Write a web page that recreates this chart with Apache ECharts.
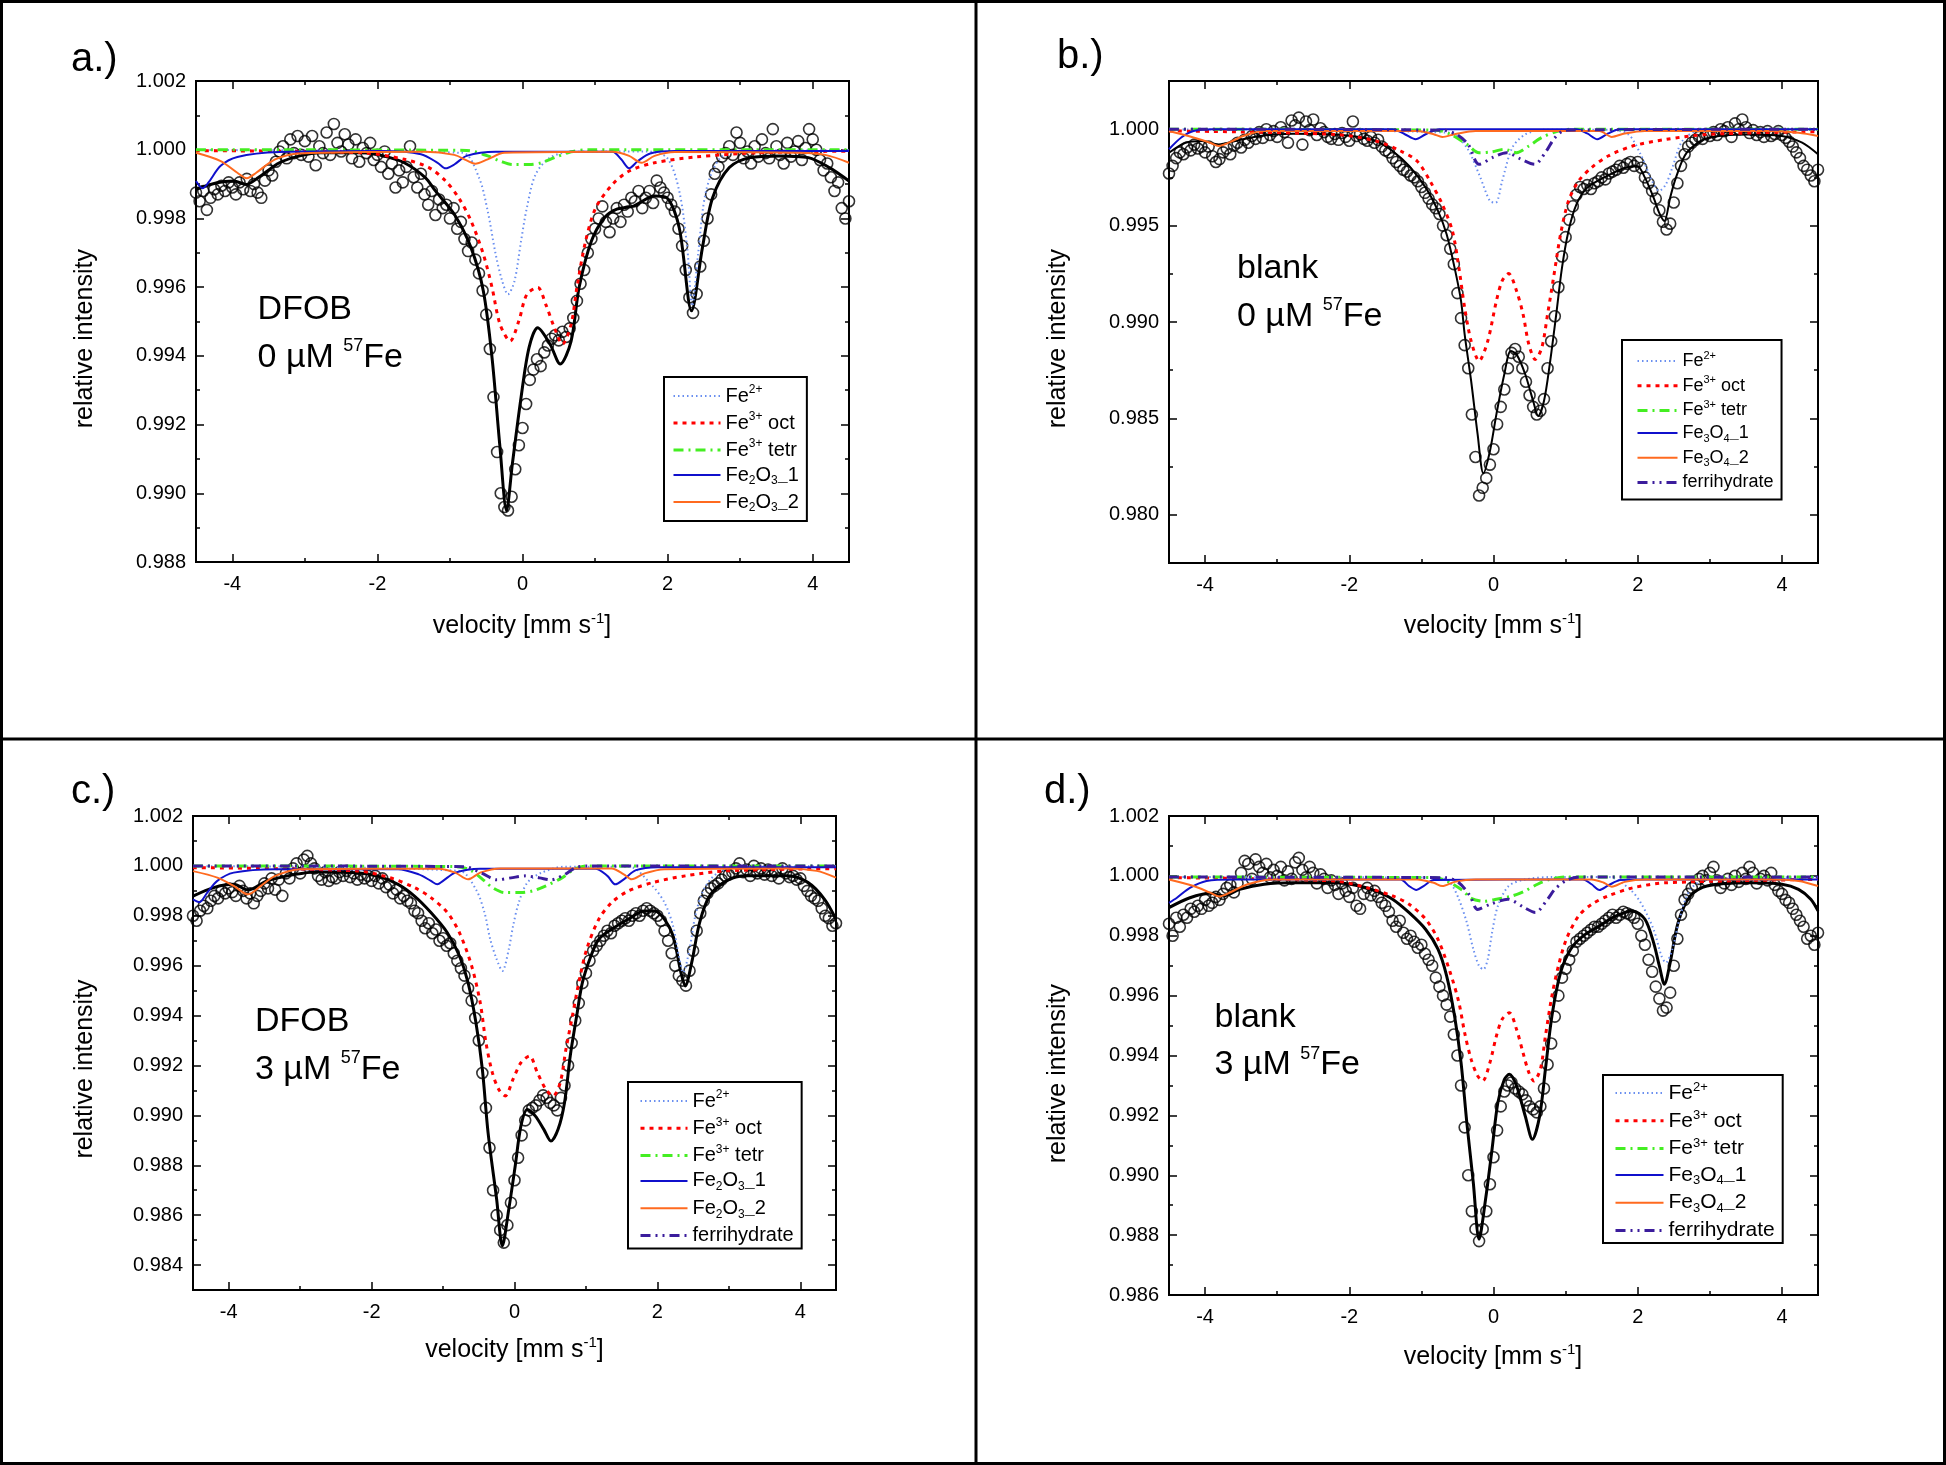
<!DOCTYPE html>
<html><head><meta charset="utf-8">
<script src="https://cdn.jsdelivr.net/npm/echarts@6/dist/echarts.min.js"></script>
<style>html,body{margin:0;padding:0;background:#fff}#c{width:1946px;height:1465px}</style>
</head><body><div id="c"></div>
<script>
const FONT = '"Liberation Sans", Arial, Helvetica, sans-serif';

// channel velocities (mm/s)
const velocity = [
-4.50,-4.45,-4.40,-4.35,-4.30,-4.25,-4.20,-4.15,-4.10,-4.05,
-4.00,-3.95,-3.90,-3.85,-3.80,-3.75,-3.70,-3.65,-3.60,-3.55,
-3.50,-3.45,-3.40,-3.35,-3.30,-3.25,-3.20,-3.15,-3.10,-3.05,
-3.00,-2.95,-2.90,-2.85,-2.80,-2.75,-2.70,-2.65,-2.60,-2.55,
-2.50,-2.45,-2.40,-2.35,-2.30,-2.25,-2.20,-2.15,-2.10,-2.05,
-2.00,-1.95,-1.90,-1.85,-1.80,-1.75,-1.70,-1.65,-1.60,-1.55,
-1.50,-1.45,-1.40,-1.35,-1.30,-1.25,-1.20,-1.15,-1.10,-1.05,
-1.00,-0.95,-0.90,-0.85,-0.80,-0.75,-0.70,-0.65,-0.60,-0.55,
-0.50,-0.45,-0.40,-0.35,-0.30,-0.25,-0.20,-0.15,-0.10,-0.05,
0.00,0.05,0.10,0.15,0.20,0.25,0.30,0.35,0.40,0.45,
0.50,0.55,0.60,0.65,0.70,0.75,0.80,0.85,0.90,0.95,
1.00,1.05,1.10,1.15,1.20,1.25,1.30,1.35,1.40,1.45,
1.50,1.55,1.60,1.65,1.70,1.75,1.80,1.85,1.90,1.95,
2.00,2.05,2.10,2.15,2.20,2.25,2.30,2.35,2.40,2.45,
2.50,2.55,2.60,2.65,2.70,2.75,2.80,2.85,2.90,2.95,
3.00,3.05,3.10,3.15,3.20,3.25,3.30,3.35,3.40,3.45,
3.50,3.55,3.60,3.65,3.70,3.75,3.80,3.85,3.90,3.95,
4.00,4.05,4.10,4.15,4.20,4.25,4.30,4.35,4.40,4.45,
4.50];

// measured relative intensity per channel
const intensityA = [
0.99875,0.99850,0.99880,0.99825,0.99860,0.99885,0.99870,0.99895,0.99880,0.99905,
0.99890,0.99870,0.99905,0.99885,0.99915,0.99880,0.99900,0.99875,0.99860,0.99910,
0.99940,0.99925,0.99965,0.99995,1.00010,0.99975,1.00030,0.99990,1.00040,0.99985,
1.00025,0.99980,1.00040,0.99955,1.00010,0.99990,1.00050,0.99985,1.00075,1.00020,
0.99995,1.00045,1.00015,0.99975,1.00030,0.99965,1.00005,0.99990,1.00020,0.99970,
0.99985,0.99950,0.99995,0.99930,0.99960,0.99890,0.99940,0.99905,0.99950,1.00010,
0.99920,0.99890,0.99930,0.99870,0.99840,0.99880,0.99810,0.99855,0.99830,0.99840,
0.99800,0.99830,0.99770,0.99790,0.99740,0.99705,0.99730,0.99680,0.99640,0.99590,
0.99520,0.99420,0.99280,0.99120,0.99000,0.98960,0.98950,0.98990,0.99070,0.99140,
0.99190,0.99260,0.99330,0.99360,0.99390,0.99370,0.99410,0.99430,0.99450,0.99460,
0.99445,0.99470,0.99455,0.99480,0.99510,0.99560,0.99610,0.99650,0.99700,0.99740,
0.99770,0.99800,0.99835,0.99790,0.99760,0.99800,0.99830,0.99790,0.99840,0.99820,
0.99860,0.99850,0.99880,0.99830,0.99860,0.99880,0.99845,0.99910,0.99890,0.99875,
0.99860,0.99840,0.99820,0.99770,0.99720,0.99650,0.99570,0.99525,0.99580,0.99660,
0.99735,0.99800,0.99870,0.99930,0.99950,0.99980,0.99990,1.00010,0.99985,1.00050,
1.00020,0.99975,0.99995,0.99960,1.00010,0.99980,1.00030,0.99990,0.99975,1.00060,
1.00010,0.99985,0.99960,1.00020,0.99980,0.99995,1.00025,0.99970,1.00005,1.00060,
1.00030,1.00000,0.99970,0.99940,0.99960,0.99920,0.99880,0.99905,0.99830,0.99800,
0.99850];
const intensityB = [
0.99770,0.99810,0.99850,0.99880,0.99870,0.99905,0.99890,0.99920,0.99900,0.99910,
0.99880,0.99910,0.99860,0.99830,0.99845,0.99880,0.99900,0.99870,0.99915,0.99930,
0.99905,0.99945,0.99930,0.99965,0.99950,0.99985,0.99955,1.00000,0.99970,0.99990,
0.99960,1.00010,0.99985,0.99930,1.00045,1.00020,1.00060,0.99920,1.00040,0.99995,
1.00050,0.99970,1.00005,0.99985,0.99960,0.99950,0.99975,0.99945,0.99980,0.99960,
0.99940,1.00040,0.99965,0.99975,0.99950,0.99940,0.99960,0.99930,0.99945,0.99910,
0.99890,0.99880,0.99850,0.99830,0.99810,0.99790,0.99780,0.99760,0.99750,0.99730,
0.99700,0.99670,0.99640,0.99610,0.99590,0.99560,0.99500,0.99450,0.99380,0.99300,
0.99150,0.99020,0.98880,0.98760,0.98520,0.98300,0.98100,0.98140,0.98190,0.98260,
0.98340,0.98470,0.98560,0.98650,0.98760,0.98840,0.98860,0.98820,0.98760,0.98690,
0.98620,0.98560,0.98520,0.98540,0.98600,0.98760,0.98900,0.99030,0.99180,0.99340,
0.99440,0.99530,0.99600,0.99660,0.99700,0.99690,0.99710,0.99690,0.99720,0.99730,
0.99750,0.99740,0.99770,0.99780,0.99790,0.99810,0.99800,0.99820,0.99830,0.99810,
0.99830,0.99800,0.99750,0.99720,0.99680,0.99640,0.99580,0.99520,0.99480,0.99510,
0.99620,0.99720,0.99810,0.99870,0.99910,0.99930,0.99945,0.99960,0.99950,0.99975,
0.99965,0.99985,0.99970,1.00000,0.99990,1.00010,0.99960,1.00030,1.00000,1.00050,
1.00010,0.99980,0.99995,0.99970,0.99985,0.99960,0.99990,0.99965,0.99975,0.99990,
0.99970,0.99955,0.99935,0.99910,0.99880,0.99850,0.99810,0.99790,0.99760,0.99730,
0.99790];
const intensityC = [
0.99800,0.99780,0.99820,0.99840,0.99830,0.99860,0.99880,0.99870,0.99900,0.99890,
0.99910,0.99895,0.99880,0.99920,0.99900,0.99870,0.99890,0.99850,0.99880,0.99900,
0.99930,0.99910,0.99950,0.99905,0.99945,0.99880,0.99970,0.99950,0.99990,1.00010,
0.99970,1.00025,1.00040,1.00010,0.99990,0.99960,0.99945,0.99975,0.99940,0.99955,
0.99950,0.99975,0.99960,0.99980,0.99955,0.99970,0.99945,0.99965,0.99950,0.99960,
0.99940,0.99960,0.99930,0.99950,0.99915,0.99925,0.99890,0.99905,0.99870,0.99880,
0.99860,0.99850,0.99820,0.99810,0.99780,0.99750,0.99770,0.99730,0.99745,0.99700,
0.99710,0.99680,0.99690,0.99650,0.99620,0.99590,0.99560,0.99510,0.99460,0.99390,
0.99300,0.99170,0.99030,0.98870,0.98700,0.98600,0.98540,0.98490,0.98560,0.98650,
0.98740,0.98830,0.98920,0.98980,0.99020,0.99030,0.99040,0.99060,0.99080,0.99070,
0.99050,0.99040,0.99020,0.99070,0.99120,0.99200,0.99290,0.99380,0.99450,0.99530,
0.99570,0.99620,0.99660,0.99680,0.99700,0.99720,0.99740,0.99730,0.99760,0.99770,
0.99780,0.99790,0.99780,0.99800,0.99810,0.99800,0.99820,0.99830,0.99820,0.99810,
0.99800,0.99780,0.99740,0.99700,0.99650,0.99600,0.99560,0.99540,0.99520,0.99580,
0.99660,0.99740,0.99810,0.99860,0.99890,0.99910,0.99920,0.99930,0.99945,0.99960,
0.99965,0.99975,0.99990,1.00010,0.99975,0.99985,0.99960,1.00000,0.99970,0.99990,
0.99965,0.99985,0.99960,0.99975,0.99950,0.99990,0.99970,0.99955,0.99960,0.99945,
0.99950,0.99920,0.99900,0.99880,0.99870,0.99860,0.99830,0.99800,0.99790,0.99760,
0.99770];
const intensityD = [
0.99840,0.99800,0.99860,0.99830,0.99870,0.99860,0.99890,0.99880,0.99900,0.99890,
0.99920,0.99900,0.99910,0.99930,0.99920,0.99940,0.99960,0.99970,0.99945,0.99975,
1.00010,1.00050,1.00040,0.99990,1.00055,1.00030,1.00010,1.00040,0.99995,1.00020,
1.00000,1.00030,0.99985,1.00015,0.99990,1.00045,1.00060,1.00020,0.99995,1.00030,
1.00010,0.99975,1.00005,0.99990,0.99960,0.99985,0.99970,0.99940,0.99975,0.99950,
0.99930,0.99960,0.99900,0.99890,0.99940,0.99960,0.99935,0.99950,0.99930,0.99910,
0.99900,0.99880,0.99850,0.99830,0.99850,0.99810,0.99790,0.99800,0.99780,0.99760,
0.99770,0.99740,0.99720,0.99700,0.99660,0.99630,0.99600,0.99570,0.99530,0.99470,
0.99400,0.99300,0.99160,0.99000,0.98880,0.98820,0.98780,0.98820,0.98880,0.98970,
0.99060,0.99150,0.99230,0.99280,0.99300,0.99310,0.99290,0.99280,0.99270,0.99250,
0.99230,0.99220,0.99210,0.99230,0.99290,0.99370,0.99440,0.99530,0.99600,0.99660,
0.99690,0.99720,0.99750,0.99780,0.99790,0.99800,0.99810,0.99820,0.99830,0.99830,
0.99840,0.99850,0.99860,0.99870,0.99860,0.99870,0.99880,0.99875,0.99870,0.99860,
0.99840,0.99800,0.99770,0.99720,0.99680,0.99630,0.99590,0.99550,0.99560,0.99610,
0.99700,0.99790,0.99870,0.99920,0.99940,0.99960,0.99970,0.99990,1.00000,0.99985,
1.00010,1.00030,0.99985,0.99960,0.99975,0.99990,0.99970,1.00000,0.99980,1.00010,
0.99990,1.00030,1.00010,0.99975,0.99990,1.00000,0.99985,1.00010,0.99970,0.99950,
0.99940,0.99920,0.99910,0.99890,0.99870,0.99850,0.99830,0.99790,0.99800,0.99770,
0.99810];

// fitted curves [velocity, intensity]
const fitA = [[-4.5,0.99885],[-4.21,0.99904],[-3.98,0.99909],[-3.81,0.99899],[-3.64,0.99919],[-3.35,0.99962],[-3.07,0.99982],[-2.78,0.99991],[-2.2,0.99991],[-1.92,0.99982],[-1.63,0.99962],[-1.34,0.99919],[-1.2,0.9988],[-0.94,0.99812],[-0.71,0.99715],[-0.54,0.99589],[-0.42,0.99395],[-0.31,0.99133],[-0.22,0.98949],[-0.14,0.99085],[-0.02,0.99279],[0.09,0.99424],[0.21,0.99482],[0.38,0.99434],[0.52,0.99376],[0.67,0.99443],[0.78,0.99599],[0.95,0.99734],[1.13,0.99802],[1.3,0.99827],[1.53,0.99836],[1.82,0.99865],[1.99,0.9986],[2.16,0.99773],[2.33,0.99531],[2.48,0.99715],[2.62,0.9986],[2.85,0.99948],[3.14,0.99977],[3.54,0.99982],[3.94,0.99977],[4.23,0.99948],[4.5,0.99909]];
const fe2A = [[-4.5,0.99999],[-0.83,0.99991],[-0.6,0.99919],[-0.48,0.99822],[-0.37,0.99696],[-0.28,0.99618],[-0.2,0.99579],[-0.11,0.99618],[-0.02,0.99734],[0.06,0.99831],[0.18,0.99928],[0.38,0.99977],[0.67,0.99994],[1.7,0.99995],[1.99,0.99977],[2.16,0.9988],[2.27,0.99715],[2.34,0.99545],[2.42,0.99696],[2.53,0.9988],[2.73,0.99977],[3.08,0.99996],[4.5,0.99999]];
const octA = [[-4.5,0.99997],[-2.2,0.99991],[-1.63,0.99972],[-1.29,0.99948],[-1.06,0.99909],[-0.88,0.9986],[-0.71,0.99793],[-0.54,0.99696],[-0.42,0.99599],[-0.31,0.99492],[-0.17,0.99443],[-0.05,0.99502],[0.06,0.99579],[0.21,0.99599],[0.32,0.9955],[0.44,0.99482],[0.55,0.99434],[0.67,0.99492],[0.75,0.99599],[0.87,0.99734],[1.01,0.99831],[1.24,0.99899],[1.47,0.99938],[1.82,0.99962],[2.39,0.99979],[3.25,0.99991],[4.5,0.99996]];
const tetrA = [[-4.5,1.0],[-0.77,0.99998],[-0.48,0.99982],[-0.31,0.99967],[-0.14,0.99957],[0.09,0.99957],[0.26,0.99962],[0.44,0.99977],[0.67,0.99994],[0.9,1.0],[4.5,1.0]];
const hem1A = [[-4.5,0.99909],[-4.41,0.99888],[-4.33,0.99904],[-4.16,0.99953],[-3.93,0.99979],[-3.35,0.99993],[-1.92,0.99996],[-1.4,0.99987],[-1.17,0.99962],[-1.06,0.99946],[-0.94,0.99957],[-0.77,0.99982],[-0.37,0.99994],[1.24,0.99994],[1.36,0.99972],[1.47,0.99946],[1.59,0.99967],[1.76,0.99989],[2.1,0.99996],[4.5,0.99996]];
const hem2A = [[-4.5,0.99991],[-4.16,0.99967],[-3.93,0.99933],[-3.8,0.99917],[-3.67,0.99933],[-3.41,0.99972],[-3.07,0.99989],[-1.34,0.99994],[-0.94,0.99985],[-0.77,0.99969],[-0.65,0.99959],[-0.48,0.99972],[-0.25,0.99991],[1.24,0.99994],[1.47,0.99982],[1.64,0.99962],[1.82,0.99982],[2.1,0.99993],[3.82,0.99991],[4.17,0.99985],[4.5,0.99962]];

const fitB = [[-4.5,0.99878],[-4.27,0.9993],[-4.04,0.99939],[-3.81,0.99921],[-3.58,0.99939],[-3.24,0.99965],[-2.78,0.99977],[-2.2,0.99973],[-1.86,0.9996],[-1.63,0.99939],[-1.4,0.99887],[-1.17,0.99809],[-0.94,0.99697],[-0.77,0.99576],[-0.65,0.99455],[-0.54,0.99282],[-0.45,0.99109],[-0.4,0.98936],[-0.31,0.98694],[-0.22,0.98417],[-0.14,0.98215],[-0.05,0.9833],[0.04,0.98521],[0.15,0.98729],[0.24,0.9885],[0.32,0.98832],[0.44,0.98729],[0.55,0.9859],[0.62,0.98512],[0.7,0.9859],[0.78,0.9878],[0.87,0.9904],[0.95,0.99282],[1.04,0.99472],[1.15,0.9961],[1.3,0.99697],[1.53,0.99749],[1.82,0.99799],[1.99,0.99809],[2.1,0.99749],[2.22,0.99645],[2.3,0.99565],[2.37,0.99524],[2.45,0.99645],[2.53,0.99749],[2.68,0.99878],[2.96,0.99953],[3.54,0.99973],[4.0,0.99965],[4.28,0.9993],[4.5,0.9987]];
const fe2B = [[-4.5,0.99999],[-0.6,0.99982],[-0.37,0.99904],[-0.2,0.99766],[-0.05,0.99628],[0.03,0.99619],[0.12,0.99731],[0.26,0.99904],[0.44,0.99973],[0.7,0.99997],[1.6,0.99997],[1.87,0.99973],[2.04,0.9987],[2.2,0.99731],[2.3,0.9968],[2.39,0.99714],[2.48,0.998],[2.62,0.9994],[2.85,0.99992],[4.5,0.99999]];
const octB = [[-4.5,0.99991],[-2.2,0.99973],[-1.63,0.99939],[-1.29,0.99887],[-1.06,0.99835],[-0.88,0.99731],[-0.71,0.9961],[-0.57,0.99472],[-0.48,0.99282],[-0.4,0.99074],[-0.31,0.98901],[-0.2,0.98798],[-0.08,0.98901],[0.04,0.99109],[0.12,0.99213],[0.21,0.99251],[0.32,0.99161],[0.41,0.9904],[0.49,0.98884],[0.58,0.98806],[0.67,0.98867],[0.75,0.9904],[0.84,0.99247],[0.93,0.99455],[1.04,0.99628],[1.18,0.99731],[1.36,0.99801],[1.59,0.99861],[1.93,0.99913],[2.39,0.99947],[2.96,0.99973],[4.5,0.99987]];
const tetrB = [[-4.5,1.0],[-0.8,0.99995],[-0.6,0.99974],[-0.37,0.99922],[-0.2,0.99878],[-0.02,0.99883],[0.15,0.99896],[0.32,0.99878],[0.49,0.99913],[0.67,0.99957],[0.9,0.99991],[1.1,1.0],[4.5,1.0]];
const mag1B = [[-4.5,0.99896],[-4.33,0.99957],[-4.16,0.99991],[-3.9,1.0],[-1.4,1.0],[-1.23,0.99974],[-1.08,0.99948],[-0.94,0.99974],[-0.75,1.0],[1.15,1.0],[1.3,0.99978],[1.44,0.99948],[1.59,0.99978],[1.75,1.0],[4.5,1.0]];
const mag2B = [[-4.5,0.99991],[-4.16,0.99957],[-3.93,0.9993],[-3.81,0.99913],[-3.67,0.9993],[-3.47,0.99965],[-3.18,0.99991],[-1.06,0.99991],[-0.83,0.99974],[-0.71,0.9996],[-0.54,0.99974],[-0.25,0.99991],[1.47,0.99991],[1.64,0.9996],[1.82,0.99978],[2.1,0.99991],[3.82,0.99991],[4.23,0.99982],[4.5,0.99965]];
const ferB = [[-4.5,1.0],[-0.7,0.99995],[-0.5,0.9997],[-0.35,0.9992],[-0.2,0.99818],[0.0,0.99855],[0.18,0.99878],[0.38,0.99845],[0.57,0.99818],[0.72,0.9988],[0.85,0.99955],[1.0,0.99995],[4.5,1.0]];

const fitC = [[-4.5,0.99879],[-4.21,0.99913],[-3.93,0.99926],[-3.73,0.99903],[-3.47,0.99939],[-3.07,0.99966],[-2.78,0.99976],[-2.2,0.99973],[-1.92,0.9996],[-1.63,0.99926],[-1.4,0.99879],[-1.17,0.99813],[-0.94,0.99732],[-0.77,0.99639],[-0.65,0.99532],[-0.54,0.99372],[-0.45,0.99185],[-0.37,0.98931],[-0.25,0.98664],[-0.17,0.98477],[-0.08,0.98624],[0.01,0.98797],[0.09,0.98958],[0.18,0.99024],[0.29,0.98998],[0.41,0.98944],[0.51,0.98897],[0.61,0.98944],[0.7,0.99051],[0.78,0.99238],[0.87,0.99398],[0.95,0.99532],[1.07,0.99639],[1.18,0.99706],[1.36,0.99746],[1.59,0.99786],[1.82,0.99819],[1.96,0.99819],[2.1,0.99786],[2.22,0.99719],[2.33,0.99572],[2.39,0.99519],[2.48,0.99612],[2.59,0.99772],[2.73,0.99879],[2.96,0.99939],[3.25,0.9996],[3.82,0.9996],[4.11,0.99933],[4.34,0.99866],[4.5,0.99786]];
const fe2C = [[-4.5,0.99999],[-0.77,0.9998],[-0.54,0.99906],[-0.42,0.99813],[-0.34,0.99706],[-0.25,0.99626],[-0.17,0.99579],[-0.08,0.99666],[-0.02,0.99759],[0.06,0.99853],[0.18,0.99933],[0.38,0.99973],[0.7,0.99997],[1.6,0.99997],[1.93,0.9992],[2.1,0.99853],[2.22,0.99759],[2.3,0.99639],[2.36,0.99572],[2.45,0.99666],[2.53,0.99799],[2.65,0.99906],[2.85,0.99973],[3.2,0.99997],[4.5,0.99999]];
const octC = [[-4.5,0.99993],[-2.2,0.9998],[-1.75,0.99953],[-1.4,0.99913],[-1.17,0.99873],[-0.94,0.99813],[-0.77,0.99732],[-0.6,0.99599],[-0.48,0.99452],[-0.4,0.99292],[-0.31,0.99171],[-0.22,0.99104],[-0.13,0.99078],[-0.02,0.99145],[0.09,0.99211],[0.21,0.99238],[0.32,0.99171],[0.44,0.99104],[0.54,0.99078],[0.64,0.99131],[0.72,0.99265],[0.81,0.99398],[0.9,0.99532],[1.01,0.99666],[1.18,0.99786],[1.36,0.99853],[1.59,0.99899],[1.93,0.99933],[2.39,0.9996],[2.96,0.9998],[4.5,0.99989]];
const tetrC = [[-4.5,1.0],[-0.8,0.99997],[-0.6,0.9998],[-0.42,0.9994],[-0.31,0.99913],[-0.14,0.99893],[0.09,0.99893],[0.26,0.999],[0.44,0.9992],[0.67,0.99953],[0.84,0.99987],[1.0,1.0],[4.5,1.0]];
const hem1C = [[-4.5,0.99866],[-4.41,0.99855],[-4.3,0.99893],[-4.16,0.9994],[-3.93,0.99973],[-3.35,0.99987],[-1.63,0.99987],[-1.34,0.99966],[-1.17,0.9994],[-1.08,0.99926],[-1.0,0.9994],[-0.83,0.99973],[-0.48,0.99989],[1.13,0.99989],[1.3,0.9996],[1.41,0.99926],[1.53,0.99946],[1.7,0.99983],[2.0,0.99995],[4.5,0.99995]];
const hem2C = [[-4.5,0.99979],[-4.16,0.99953],[-3.93,0.9992],[-3.73,0.99886],[-3.55,0.9992],[-3.35,0.9996],[-3.0,0.99987],[-1.06,0.99989],[-0.83,0.99973],[-0.65,0.99946],[-0.48,0.99973],[-0.2,0.9999],[1.36,0.9999],[1.53,0.99966],[1.64,0.99946],[1.82,0.9997],[2.1,0.99987],[3.82,0.9999],[4.23,0.9998],[4.5,0.99953]];
const ferC = [[-4.5,1.0],[-0.7,0.99997],[-0.45,0.9997],[-0.25,0.99944],[-0.05,0.99952],[0.15,0.9996],[0.35,0.99952],[0.51,0.99944],[0.7,0.99965],[0.85,0.99992],[1.0,1.0],[4.5,1.0]];

const fitD = [[-4.5,0.99894],[-4.21,0.99927],[-3.93,0.99942],[-3.75,0.99933],[-3.52,0.99955],[-3.18,0.99972],[-2.78,0.99977],[-2.2,0.99977],[-1.86,0.99966],[-1.63,0.99949],[-1.4,0.99922],[-1.17,0.99877],[-0.94,0.99821],[-0.77,0.99755],[-0.65,0.99666],[-0.54,0.99532],[-0.45,0.99376],[-0.37,0.99176],[-0.28,0.98975],[-0.2,0.98786],[-0.11,0.9892],[-0.02,0.99087],[0.06,0.99242],[0.15,0.9932],[0.22,0.99337],[0.32,0.99298],[0.44,0.99198],[0.54,0.9912],[0.64,0.99198],[0.72,0.99354],[0.81,0.99532],[0.93,0.99677],[1.07,0.99755],[1.24,0.99799],[1.47,0.99833],[1.7,0.99866],[1.93,0.99883],[2.1,0.99855],[2.22,0.99777],[2.3,0.99699],[2.37,0.99638],[2.45,0.9971],[2.56,0.99844],[2.73,0.99933],[2.96,0.99966],[3.54,0.99977],[4.0,0.99972],[4.23,0.99955],[4.4,0.99922],[4.5,0.99883]];
const fe2D = [[-4.5,0.99996],[-0.75,0.99994],[-0.6,0.99977],[-0.48,0.99922],[-0.37,0.99844],[-0.28,0.99755],[-0.2,0.99699],[-0.14,0.99688],[-0.08,0.99721],[-0.02,0.9981],[0.06,0.99899],[0.21,0.99966],[0.44,0.99988],[0.8,0.99996],[1.6,0.99996],[1.87,0.9996],[2.04,0.99911],[2.22,0.99821],[2.33,0.99732],[2.39,0.9971],[2.48,0.99755],[2.59,0.99866],[2.73,0.99955],[2.96,0.99988],[4.5,0.99996]];
const octD = [[-4.5,0.99994],[-2.2,0.99983],[-1.75,0.9996],[-1.4,0.99933],[-1.17,0.99905],[-0.94,0.99855],[-0.77,0.99788],[-0.6,0.99677],[-0.48,0.99577],[-0.4,0.99476],[-0.31,0.99387],[-0.22,0.99332],[-0.15,0.99315],[-0.05,0.99376],[0.04,0.99465],[0.12,0.99521],[0.22,0.99543],[0.32,0.99487],[0.41,0.99409],[0.49,0.99343],[0.56,0.99315],[0.65,0.99354],[0.72,0.99465],[0.81,0.99599],[0.9,0.99699],[1.01,0.99788],[1.18,0.99866],[1.36,0.99905],[1.59,0.99933],[1.93,0.9996],[2.39,0.99977],[4.5,0.99988]];
const tetrD = [[-4.5,0.99996],[-0.8,0.99994],[-0.6,0.99977],[-0.42,0.9995],[-0.31,0.99925],[-0.14,0.99915],[0.04,0.99922],[0.26,0.99933],[0.44,0.9995],[0.61,0.99972],[0.78,0.99988],[1.0,0.99996],[4.5,0.99996]];
const mag1D = [[-4.5,0.9991],[-4.39,0.99927],[-4.21,0.9996],[-3.98,0.99983],[-3.6,0.99988],[-1.29,0.99988],[-1.17,0.99966],[-1.07,0.99953],[-0.97,0.99966],[-0.83,0.99986],[1.24,0.99988],[1.36,0.99972],[1.47,0.99953],[1.59,0.99968],[1.76,0.99986],[2.0,0.99988],[4.5,0.99988]];
const mag2D = [[-4.5,0.99988],[-4.16,0.99966],[-3.93,0.99944],[-3.8,0.99931],[-3.64,0.99946],[-3.41,0.99972],[-3.07,0.99988],[-1.06,0.99988],[-0.83,0.99977],[-0.71,0.99966],[-0.54,0.9998],[-0.25,0.99988],[1.36,0.99988],[1.53,0.99977],[1.64,0.99964],[1.82,0.9998],[2.1,0.99988],[3.82,0.99988],[4.23,0.99983],[4.5,0.99966]];
const ferD = [[-4.5,0.99996],[-0.65,0.99994],[-0.48,0.99977],[-0.33,0.99935],[-0.22,0.99888],[-0.05,0.99905],[0.2,0.99922],[0.42,0.99895],[0.58,0.99878],[0.75,0.99922],[0.85,0.99955],[1.01,0.99985],[1.2,0.99996],[4.5,0.99996]];

// tick values
const xMajorTicks = [-4,-2,0,2,4];
const xMinorTicks = [-3,-1,1,3];
const yMajorA = [0.988,0.990,0.992,0.994,0.996,0.998,1.000,1.002];
const yMinorA = [0.989,0.991,0.993,0.995,0.997,0.999,1.001];
const yMajorB = [0.980,0.985,0.990,0.995,1.000];
const yMinorB = [0.9825,0.9875,0.9925,0.9975];
const yMajorC = [0.984,0.986,0.988,0.990,0.992,0.994,0.996,0.998,1.000,1.002];
const yMinorC = [0.985,0.987,0.989,0.991,0.993,0.995,0.997,0.999,1.001];
const yMajorD = [0.986,0.988,0.990,0.992,0.994,0.996,0.998,1.000,1.002];
const yMinorD = [0.987,0.989,0.991,0.993,0.995,0.997,0.999,1.001];

const compStyle = {
  'Fe2+':        {color:'#6a8ff0', width:2, type:[1.5,3]},
  'Fe3+ oct':    {color:'#ff0000', width:3, type:[4,5]},
  'Fe3+ tetr':   {color:'#44ee22', width:3, type:[10,5,2,5]},
  'Fe2O3_1':     {color:'#1010cc', width:2, type:'solid'},
  'Fe2O3_2':     {color:'#ff6a1f', width:2, type:'solid'},
  'Fe3O4_1':     {color:'#1010cc', width:2, type:'solid'},
  'Fe3O4_2':     {color:'#ff6a1f', width:2, type:'solid'},
  'ferrihydrate':{color:'#3b1c9c', width:3, type:[10,5,2,5,2,5]}
};
const legendLabel = {
  'Fe2+': '{n|Fe}{p|2+}',
  'Fe3+ oct': '{n|Fe}{p|3+}{n| oct}',
  'Fe3+ tetr': '{n|Fe}{p|3+}{n| tetr}',
  'Fe2O3_1': '{n|Fe}{b|2}{n|O}{b|3}{d|—}{n|1}',
  'Fe2O3_2': '{n|Fe}{b|2}{n|O}{b|3}{d|—}{n|2}',
  'Fe3O4_1': '{n|Fe}{b|3}{n|O}{b|4}{d|—}{n|1}',
  'Fe3O4_2': '{n|Fe}{b|3}{n|O}{b|4}{d|—}{n|2}',
  'ferrihydrate': '{n|ferrihydrate}'
};
function legendRich(F, LH) {
  return {
    n: {fontSize:F, fontFamily:FONT, color:'#000', lineHeight:LH},
    p: {fontSize:Math.round(F*0.6), fontFamily:FONT, color:'#000', lineHeight:Math.round(F*0.65), verticalAlign:'top'},
    b: {fontSize:Math.round(F*0.6), fontFamily:FONT, color:'#000', lineHeight:Math.round(F*0.2), verticalAlign:'bottom'},
    d: {fontSize:Math.round(F*0.5), fontFamily:FONT, color:'#000', lineHeight:Math.round(F*0.75), verticalAlign:'bottom'}
  };
}

const panels = [
  {grid:{left:196,top:81,width:653,height:481}, y:[0.988,1.002], yMajor:yMajorA, yMinor:yMinorA,
   data:intensityA, fit:fitA, fitW:3,
   comps:[['Fe2+',fe2A],['Fe3+ oct',octA],['Fe3+ tetr',tetrA],['Fe2O3_1',hem1A],['Fe2O3_2',hem2A]],
   legend:{left:664,top:377,padding:[7,8,7,8],gap:5,w:47,F:20,LH:24}},
  {grid:{left:1169,top:81,width:649,height:482}, y:[0.9775,1.0025], yMajor:yMajorB, yMinor:yMinorB,
   data:intensityB, fit:fitB, fitW:2,
   comps:[['Fe2+',fe2B],['Fe3+ oct',octB],['Fe3+ tetr',tetrB],['Fe3O4_1',mag1B],['Fe3O4_2',mag2B],['ferrihydrate',ferB]],
   legend:{left:1622,top:340,padding:[10,8,8,14],gap:4.7,w:40,F:18,LH:22}},
  {grid:{left:193,top:816,width:643,height:474}, y:[0.983,1.002], yMajor:yMajorC, yMinor:yMinorC,
   data:intensityC, fit:fitC, fitW:3,
   comps:[['Fe2+',fe2C],['Fe3+ oct',octC],['Fe3+ tetr',tetrC],['Fe2O3_1',hem1C],['Fe2O3_2',hem2C],['ferrihydrate',ferC]],
   legend:{left:628,top:1082,padding:[7,8,3,11],gap:5.3,w:47,F:20,LH:24}},
  {grid:{left:1169,top:816,width:649,height:479}, y:[0.986,1.002], yMajor:yMajorD, yMinor:yMinorD,
   data:intensityD, fit:fitD, fitW:3,
   comps:[['Fe2+',fe2D],['Fe3+ oct',octD],['Fe3+ tetr',tetrD],['Fe3O4_1',mag1D],['Fe3O4_2',mag2D],['ferrihydrate',ferD]],
   legend:{left:1603,top:1075,padding:[6,8,2,11],gap:5.3,w:48,F:21,LH:24}}
];

const grids=[], xAxes=[], yAxes=[], series=[], legends=[];
const tickLine = {color:'#000', width:1.5};
panels.forEach((p,i)=>{
  grids.push(Object.assign({}, p.grid, {show:true, borderColor:'#000', borderWidth:2, backgroundColor:'transparent', containLabel:false}));
  const xb = {gridIndex:i, type:'value', min:-4.5, max:4.5, axisLine:{show:false,onZero:false}, splitLine:{show:false}, axisPointer:{show:false}};
  const yb = {gridIndex:i, type:'value', min:p.y[0], max:p.y[1], axisLine:{show:false,onZero:false}, splitLine:{show:false}, axisPointer:{show:false}};
  const major = (vals)=>({show:true, inside:true, length:8, lineStyle:tickLine, customValues:vals});
  const minor = (vals)=>({show:true, inside:true, length:4, lineStyle:tickLine, customValues:vals});
  xAxes.push(Object.assign({}, xb, {position:'bottom', axisTick:major(xMajorTicks),
    axisLabel:{show:true, customValues:xMajorTicks, margin:12, fontSize:20, fontFamily:FONT, color:'#000', formatter:v=>String(v)}}));
  xAxes.push(Object.assign({}, xb, {position:'top', axisTick:major(xMajorTicks), axisLabel:{show:false}}));
  xAxes.push(Object.assign({}, xb, {position:'bottom', axisTick:minor(xMinorTicks), axisLabel:{show:false}}));
  xAxes.push(Object.assign({}, xb, {position:'top', axisTick:minor(xMinorTicks), axisLabel:{show:false}}));
  yAxes.push(Object.assign({}, yb, {position:'left', axisTick:major(p.yMajor),
    axisLabel:{show:true, customValues:p.yMajor, margin:10, fontSize:20, fontFamily:FONT, color:'#000', formatter:v=>v.toFixed(3)}}));
  yAxes.push(Object.assign({}, yb, {position:'right', axisTick:major(p.yMajor), axisLabel:{show:false}}));
  yAxes.push(Object.assign({}, yb, {position:'left', axisTick:minor(p.yMinor), axisLabel:{show:false}}));
  yAxes.push(Object.assign({}, yb, {position:'right', axisTick:minor(p.yMinor), axisLabel:{show:false}}));
  const xi = 4*i, yi = 4*i;
  series.push({type:'scatter', name:'data'+i, xAxisIndex:xi, yAxisIndex:yi, silent:true, z:2,
    data: velocity.map((v,k)=>[v, p.data[k]]),
    symbol:'circle', symbolSize:11,
    itemStyle:{color:'rgba(0,0,0,0)', borderColor:'#000', borderWidth:1.6}});
  series.push({type:'line', name:'fit'+i, xAxisIndex:xi, yAxisIndex:yi, silent:true, z:3,
    data:p.fit, smooth:0.3, symbol:'none', showSymbol:false,
    lineStyle:{color:'#000', width:p.fitW}});
  p.comps.forEach(([name,pts])=>{
    const s = compStyle[name];
    series.push({type:'line', name:name, xAxisIndex:xi, yAxisIndex:yi, silent:true, z:4,
      data:pts, smooth:0.3, symbol:'none', showSymbol:false,
      lineStyle:{color:s.color, width:s.width, type:s.type},
      itemStyle:{color:s.color}});
  });
  const L = p.legend;
  legends.push({show:true, orient:'vertical', left:L.left, top:L.top, padding:L.padding, itemGap:L.gap,
    itemWidth:L.w, itemHeight:14, borderColor:'#000', borderWidth:2, borderRadius:0, backgroundColor:'#fff',
    selectedMode:false,
    data:p.comps.map(c=>{ const s = compStyle[c[0]];
      return {name:c[0], lineStyle:{color:s.color, width:s.width, type:s.type}, itemStyle:{opacity:0, borderWidth:0}}; }),
    formatter:n=>legendLabel[n],
    textStyle:{color:'#000', fontFamily:FONT, fontSize:L.F, rich:legendRich(L.F, L.LH)},
    itemStyle:{opacity:0, borderWidth:0}});
});

// text helpers (baseline -> middle)
function txt(x, baseline, F, text) {
  return {type:'text', x:x, y:baseline-0.3465*F, silent:true,
    style:{text:text, fontSize:F, fontFamily:FONT, fill:'#000', align:'left', verticalAlign:'middle'}};
}
function richLine(x, baseline, F, text, supF, supLH, align) {
  return {type:'text', x:x, y:baseline-0.3465*F, silent:true,
    style:{text:text, fontSize:F, fontFamily:FONT, fill:'#000', align:align||'left', verticalAlign:'middle',
      rich:{n:{fontSize:F, fontFamily:FONT, fill:'#000', lineHeight:Math.round(F*1.18)},
            s:{fontSize:supF, fontFamily:FONT, fill:'#000', lineHeight:supLH, verticalAlign:'top'}}}};
}
function yName(x, y) {
  return {type:'text', x:x, y:y, rotation:Math.PI/2, silent:true,
    style:{text:'relative intensity', fontSize:25, fontFamily:FONT, fill:'#000', align:'center', verticalAlign:'middle'}};
}
const xNameText = '{n|velocity [mm s}{s|-1}{n|]}';

const graphics = [
  {type:'rect', silent:true, shape:{x:1.5,y:1.5,width:1943,height:1462}, style:{fill:'transparent', stroke:'#000', lineWidth:3}},
  {type:'line', silent:true, shape:{x1:976,y1:0,x2:976,y2:1465}, style:{stroke:'#000', lineWidth:3}},
  {type:'line', silent:true, shape:{x1:0,y1:739,x2:1946,y2:739}, style:{stroke:'#000', lineWidth:3}},
  txt(71, 74, 40, 'a.)'), txt(1057, 71, 40, 'b.)'), txt(71, 806, 40, 'c.)'), txt(1044, 806, 40, 'd.)'),
  txt(257.6, 321, 34, 'DFOB'), richLine(257.6, 369.3, 34, '{n|0 µM }{s|57}{n|Fe}', 18, 21),
  txt(1237, 280.3, 34, 'blank'), richLine(1237, 328.3, 34, '{n|0 µM }{s|57}{n|Fe}', 18, 21),
  txt(255, 1033.3, 34, 'DFOB'), richLine(255, 1081, 34, '{n|3 µM }{s|57}{n|Fe}', 18, 21),
  txt(1214.5, 1029.3, 34, 'blank'), richLine(1214.5, 1076.7, 34, '{n|3 µM }{s|57}{n|Fe}', 18, 21),
  yName(85.3, 338.7), yName(1058, 338.7), yName(85, 1069), yName(1058, 1073.7),
  richLine(522, 635, 25, xNameText, 15, 22, 'center'),
  richLine(1493, 635, 25, xNameText, 15, 22, 'center'),
  richLine(514.5, 1359, 25, xNameText, 15, 22, 'center'),
  richLine(1493, 1366, 25, xNameText, 15, 22, 'center')
];

const chart = echarts.init(document.getElementById('c'), null, {renderer:'canvas', width:1946, height:1465});
chart.setOption({
  animation:false,
  backgroundColor:'#fff',
  textStyle:{fontFamily:FONT},
  grid:grids, xAxis:xAxes, yAxis:yAxes, series:series, legend:legends,
  graphic:{elements:graphics}
});
</script></body></html>
